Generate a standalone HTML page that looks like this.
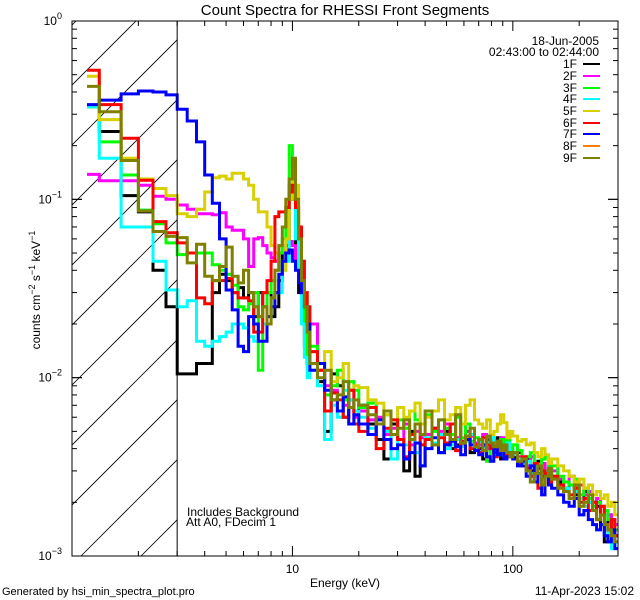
<!DOCTYPE html>
<html><head><meta charset="utf-8">
<style>
html,body{margin:0;padding:0;background:#fff;width:640px;height:600px;overflow:hidden;}
svg{display:block;font-family:"Liberation Sans",sans-serif;overflow:hidden;}
</style></head>
<body>
<svg id="chart" width="640" height="600" viewBox="0 0 640 600" xmlns="http://www.w3.org/2000/svg">
<defs><clipPath id="plotclip"><rect x="72" y="21" width="546" height="535"/></clipPath>
<clipPath id="hatchclip"><rect x="72" y="21" width="105" height="535"/></clipPath></defs>
<rect x="0" y="0" width="640" height="600" fill="#fff"/>
<g id="hatch" clip-path="url(#hatchclip)"></g>
<g id="series" clip-path="url(#plotclip)"></g>
<g id="axes"></g>
<text x="345" y="15" font-size="15" text-anchor="middle">Count Spectra for RHESSI Front Segments</text>
<text transform="translate(40,290) rotate(-90)" font-size="12" text-anchor="middle">counts cm<tspan dy="-5" font-size="9">−2</tspan><tspan dy="5"> s</tspan><tspan dy="-5" font-size="9">−1</tspan><tspan dy="5"> keV</tspan><tspan dy="-5" font-size="9">−1</tspan></text>
<text x="345" y="587" font-size="12" text-anchor="middle">Energy (keV)</text>
<text x="2" y="595" font-size="11">Generated by hsi_min_spectra_plot.pro</text>
<text x="634" y="595" font-size="12" text-anchor="end">11-Apr-2023 15:02</text>
<text x="187" y="516" font-size="12">Includes Background</text>
<text x="186" y="526" font-size="12">Att A0, FDecim 1</text>
<text x="599" y="45" font-size="12" text-anchor="end">18-Jun-2005</text>
<text x="599" y="56" font-size="12" text-anchor="end">02:43:00 to 02:44:00</text>
<g id="legend"></g>
</svg>
<script>
const NS = "http://www.w3.org/2000/svg";
const energyEdges = [1.17,1.33,1.67,2,2.33,2.67,3,3.33,3.67,4,4.33,4.67,5,5.33,5.67,6,6.33,6.67,7,7.33,7.67,8,8.33,8.67,9,9.33,9.67,10,10.33,10.67,11,11.33,11.67,12,
13,14,15,16,17,18,19,20,22,24,26,28,30,32,34,36,38,40,43,46,49,52,55,58,61,64,67,70,73,76,79,82,85,88,91,94,97,100,105,110,115,120,125,130,135,140,145,150,160,170,180,190,200,210,220,230,240,250,260,270,280,290,300];
const seriesNames = ["1F","2F","3F","4F","5F","6F","7F","8F","9F"];
const seriesColors = ["#000000","#ff00ff","#00ff00","#00ffff","#d8d000","#ff0000","#0000ff","#ff8000","#808000"];
const s1F = [0.33,0.24,0.105,0.085,0.04,0.025,0.0105,0.0105,0.012,0.012,0.03,0.038,0.035,0.03,0.032,0.028,0.03,0.022,0.03,0.025,0.03,0.022,0.025,0.035,0.05,0.055,0.12,0.1,0.05,0.03,0.02,0.015,0.012,
0.012,0.0095,0.005,0.0105,0.009,0.006,0.0075,0.0065,0.007,0.0055,0.0045,0.0035,0.0055,0.0045,0.003,0.005,0.0028,0.0032,0.0045,0.0052,0.0038,0.005,0.004,0.0042,0.0055,0.0045,0.0038,0.0041,0.004,0.0035,0.0045,0.0042,0.0038,0.0046,0.0035,0.0044,0.004,0.0036,0.0036,0.0038,0.0032,0.0035,0.003,0.0033,0.0034,0.0028,0.003,0.0029,0.0028,0.0026,0.0024,0.0025,0.0022,0.0021,0.0023,0.002,0.0018,0.0019,0.0015,0.0012,0.0017,0.0014,0.0013];
const s2F = [0.138,0.127,0.127,0.12,0.104,0.1,0.093,0.088,0.083,0.083,0.082,0.084,0.07,0.067,0.067,0.06,0.042,0.06,0.061,0.055,0.05,0.047,0.045,0.05,0.05,0.052,0.058,0.055,0.045,0.04,0.03,0.025,0.02,
0.02,0.011,0.009,0.0085,0.0065,0.007,0.0085,0.006,0.0065,0.0058,0.006,0.0048,0.0052,0.0045,0.0055,0.0042,0.005,0.0046,0.0048,0.0042,0.005,0.0055,0.0044,0.0046,0.0042,0.005,0.0047,0.0043,0.0042,0.0048,0.004,0.0045,0.0044,0.0038,0.0046,0.0041,0.0043,0.0039,0.0038,0.0036,0.0035,0.0032,0.0036,0.0031,0.0029,0.0033,0.003,0.0032,0.003,0.0027,0.0026,0.0028,0.0024,0.0025,0.0022,0.0023,0.002,0.0021,0.0019,0.0018,0.0017,0.0016,0.0015];
const s3F = [0.33,0.21,0.137,0.087,0.073,0.057,0.049,0.05,0.05,0.05,0.043,0.04,0.038,0.033,0.025,0.024,0.026,0.03,0.011,0.025,0.03,0.035,0.04,0.05,0.06,0.09,0.2,0.15,0.08,0.04,0.025,0.018,0.013,
0.015,0.012,0.008,0.009,0.011,0.0075,0.0095,0.0085,0.0068,0.0072,0.0055,0.0062,0.0048,0.0058,0.0052,0.0065,0.0058,0.0055,0.0062,0.005,0.0058,0.0052,0.0048,0.006,0.0046,0.0055,0.0044,0.0046,0.0045,0.0042,0.0034,0.0048,0.0043,0.0041,0.0045,0.004,0.0046,0.0036,0.0042,0.0039,0.0034,0.0036,0.0038,0.0032,0.0031,0.0035,0.0036,0.003,0.0032,0.0028,0.0026,0.0025,0.0027,0.0022,0.0024,0.0021,0.0019,0.002,0.0017,0.0018,0.0016,0.0015,0.0014];
const s4F = [0.33,0.17,0.07,0.07,0.045,0.031,0.025,0.027,0.016,0.015,0.016,0.017,0.018,0.02,0.02,0.019,0.017,0.016,0.018,0.02,0.022,0.028,0.03,0.03,0.04,0.045,0.11,0.13,0.06,0.035,0.02,0.013,0.01,
0.011,0.009,0.0045,0.007,0.006,0.0085,0.0075,0.0065,0.006,0.0052,0.0055,0.005,0.0035,0.0045,0.0042,0.0048,0.0038,0.0042,0.0046,0.0043,0.0048,0.004,0.0042,0.0045,0.0041,0.0044,0.0048,0.004,0.0044,0.0041,0.0043,0.0046,0.004,0.0044,0.0037,0.004,0.0043,0.0038,0.0037,0.0035,0.0033,0.0034,0.0029,0.0031,0.0032,0.0027,0.003,0.0028,0.0027,0.0025,0.0024,0.0022,0.0023,0.0021,0.0019,0.002,0.0018,0.0016,0.0017,0.0015,0.0013,0.0011,0.0012];
const s5F = [0.49,0.28,0.17,0.13,0.115,0.105,0.083,0.08,0.088,0.11,0.132,0.135,0.13,0.14,0.14,0.13,0.12,0.1,0.085,0.085,0.07,0.055,0.05,0.045,0.04,0.06,0.1,0.15,0.12,0.07,0.045,0.03,0.02,
0.014,0.011,0.014,0.0095,0.01,0.012,0.0085,0.009,0.0088,0.0075,0.0072,0.0062,0.0058,0.0068,0.006,0.0065,0.0072,0.0055,0.006,0.0065,0.0075,0.0058,0.0062,0.0068,0.0055,0.007,0.0075,0.0058,0.0055,0.0052,0.0058,0.0048,0.005,0.0055,0.0062,0.0056,0.0046,0.005,0.0047,0.0044,0.0045,0.0042,0.0043,0.0038,0.0036,0.004,0.0037,0.0033,0.0035,0.0032,0.003,0.0028,0.0026,0.0027,0.0024,0.0025,0.0022,0.0023,0.0021,0.0022,0.0019,0.002,0.0017];
const s6F = [0.53,0.34,0.22,0.128,0.075,0.065,0.057,0.05,0.028,0.026,0.035,0.035,0.036,0.03,0.028,0.028,0.027,0.018,0.018,0.03,0.035,0.045,0.08,0.085,0.085,0.09,0.11,0.12,0.09,0.07,0.045,0.03,0.025,
0.014,0.011,0.0065,0.0082,0.0075,0.006,0.0085,0.0055,0.005,0.0068,0.004,0.0052,0.0058,0.0045,0.0036,0.0048,0.0055,0.0042,0.0045,0.0052,0.0046,0.0043,0.0055,0.0039,0.0044,0.0047,0.004,0.0042,0.0038,0.0046,0.0042,0.004,0.0036,0.0044,0.0039,0.0041,0.0036,0.0038,0.0035,0.0033,0.0036,0.0031,0.0028,0.0033,0.0024,0.003,0.0029,0.0026,0.0028,0.0025,0.0023,0.0022,0.0024,0.002,0.0021,0.0018,0.002,0.0016,0.0019,0.0015,0.0014,0.0016,0.0013];
const s7F = [0.34,0.36,0.39,0.405,0.4,0.385,0.32,0.275,0.21,0.137,0.095,0.06,0.031,0.024,0.015,0.014,0.022,0.02,0.016,0.016,0.022,0.025,0.03,0.038,0.045,0.05,0.052,0.045,0.04,0.034,0.03,0.025,0.02,
0.011,0.012,0.0085,0.0075,0.0065,0.0078,0.0055,0.0062,0.0055,0.0048,0.0058,0.0045,0.004,0.0042,0.0035,0.0038,0.0043,0.0032,0.004,0.0046,0.0038,0.0042,0.0044,0.0041,0.0037,0.0045,0.0042,0.0039,0.0037,0.0042,0.0036,0.0034,0.004,0.0037,0.0039,0.0035,0.0036,0.0038,0.0035,0.0032,0.0034,0.0028,0.0032,0.0026,0.0031,0.0022,0.0028,0.0025,0.0024,0.0022,0.002,0.0019,0.0021,0.0017,0.0018,0.0016,0.0015,0.0014,0.0015,0.0013,0.0012,0.0014,0.0011];
const s8F = [];
const s9F = [0.43,0.31,0.165,0.086,0.066,0.062,0.061,0.044,0.056,0.037,0.035,0.042,0.054,0.037,0.034,0.04,0.03,0.025,0.022,0.025,0.02,0.028,0.04,0.055,0.07,0.1,0.13,0.17,0.1,0.06,0.035,0.025,0.018,
0.012,0.01,0.011,0.0075,0.008,0.0095,0.0068,0.0075,0.007,0.0062,0.0055,0.0065,0.0048,0.0052,0.0058,0.0045,0.0055,0.0048,0.0065,0.0042,0.0058,0.0048,0.0045,0.0062,0.0043,0.0047,0.0052,0.0041,0.0045,0.0039,0.0047,0.0043,0.0041,0.0044,0.0039,0.0042,0.0038,0.0036,0.0038,0.0034,0.0035,0.003,0.0026,0.0029,0.0032,0.0025,0.0028,0.0031,0.0027,0.0024,0.0023,0.0021,0.0025,0.0019,0.002,0.0022,0.0018,0.0016,0.0017,0.0015,0.0014,0.0013,0.0012];
const seriesValues = [s1F,s2F,s3F,s4F,s5F,s6F,s7F,s8F,s9F];
const xTickMajor = [10,100];
const xTickLabels = ["10","100"];
const yTickMajor = [1,0.1,0.01,0.001];
const yTickExp = ["0","−1","−2","−3"];

const X0=72,X1=618,Y0=21,Y1=556;
const xMin=1,xMax=300,yMin=0.001,yMax=1;
function xs(e){return X0+(X1-X0)*(Math.log10(e)-Math.log10(xMin))/(Math.log10(xMax)-Math.log10(xMin));}
function ys(v){return Y0+(Y1-Y0)*(Math.log10(yMax)-Math.log10(v))/(Math.log10(yMax)-Math.log10(yMin));}
function mk(tag,attrs,parent){const el=document.createElementNS(NS,tag);for(const k in attrs)el.setAttribute(k,attrs[k]);parent.appendChild(el);return el;}

const hatch=document.getElementById('hatch');
for(let c=157-120;c<=157+600;c+=60){
  const l=mk('line',{x1:c-520,y1:520,x2:c-60,y2:60,stroke:'#000','stroke-width':0.8},hatch);
  l.setAttribute('x1',Math.max(c-556,72-40));
  l.setAttribute('y1',c-Math.max(c-556,72-40));
  l.setAttribute('x2',Math.min(c-21,177+40));
  l.setAttribute('y2',c-Math.min(c-21,177+40));
  
  
}
const vl=mk('line',{x1:xs(3),y1:Y0,x2:xs(3),y2:Y1,stroke:'#000','stroke-width':1},document.getElementById('axes'));



const sg=document.getElementById('series');
seriesValues.forEach((vals,i)=>{
  if(!vals.length)return;
  let d='';
  for(let b=0;b<vals.length&&b+1<energyEdges.length;b++){
    const xa=xs(energyEdges[b]),xb=xs(energyEdges[b+1]),y=ys(vals[b]);
    d+=(b===0?'M'+xa.toFixed(1)+','+y.toFixed(1):'V'+y.toFixed(1))+'H'+xb.toFixed(1);
  }
  const p=mk('path',{d:d,fill:'none',stroke:seriesColors[i],'stroke-width':3,'stroke-linejoin':'miter'},sg);
  
  
});

const ax=document.getElementById('axes');
const frame=mk('rect',{x:X0,y:Y0,width:X1-X0,height:Y1-Y0,fill:'none',stroke:'#000','stroke-width':1},ax);


for(let dec=1;dec<=100;dec*=10){
  for(let m=1;m<=9;m++){
    const e=dec*m; if(e<xMin||e>xMax)continue;
    const x=xs(e), len=(m===1)?10:5;
    const t1=mk('line',{x1:x,y1:Y1,x2:x,y2:Y1-len,stroke:'#000'},ax);
    
    
    const t2=mk('line',{x1:x,y1:Y0,x2:x,y2:Y0+len,stroke:'#000'},ax);
    
    
  }
}
xTickMajor.forEach((e,i)=>{
  const t=mk('text',{x:xs(e),y:573,'font-size':12,'text-anchor':'middle'},ax);
  t.textContent=xTickLabels[i];
  
  
});
for(let dec=0.001;dec<1;dec*=10){
  for(let m=1;m<=10;m++){
    const v=dec*m, y=ys(v), len=(m===1||m===10)?10:5;
    const t1=mk('line',{x1:X0,y1:y,x2:X0+len,y2:y,stroke:'#000'},ax);
    
    
    const t2=mk('line',{x1:X1,y1:y,x2:X1-len,y2:y,stroke:'#000'},ax);
    
    
  }
}
yTickMajor.forEach((v,i)=>{
  const t=mk('text',{x:62,y:ys(v)+4,'font-size':12,'text-anchor':'end'},ax);
  t.textContent='10';
  const s=mk('tspan',{dy:-6,'font-size':9},t);
  s.textContent=yTickExp[i];
  
  
});

const lg=document.getElementById('legend');
const legY=[64,76,88,99,111,123,134,146,158];
seriesNames.forEach((n,i)=>{
  const t=mk('text',{x:577,y:legY[i]+4,'font-size':12,'text-anchor':'end'},lg);
  t.textContent=n;
  
  
  const l=mk('line',{x1:583,y1:legY[i],x2:600,y2:legY[i],stroke:seriesColors[i],'stroke-width':2},lg);
  
  
});
</script>
</body></html>
